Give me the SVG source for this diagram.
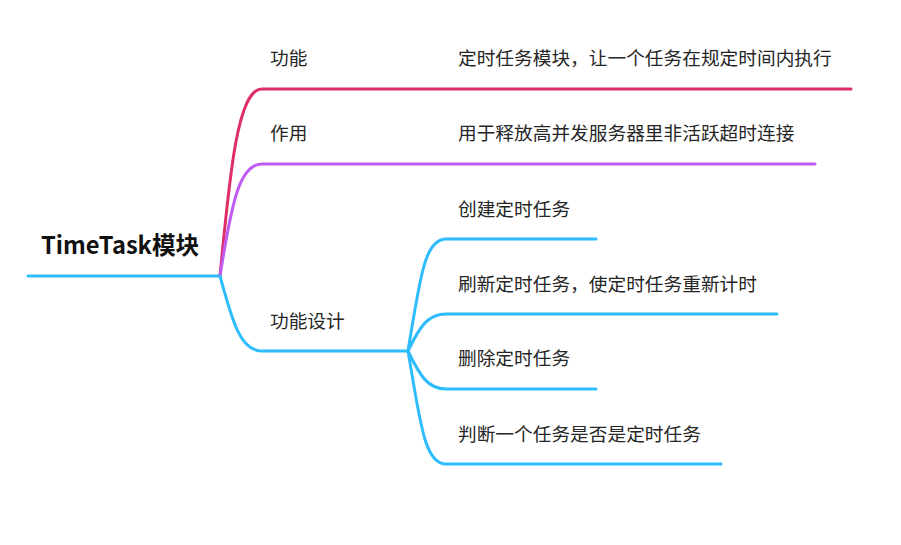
<svg xmlns="http://www.w3.org/2000/svg" width="901" height="545" viewBox="0 0 901 545">
<style>
.l{fill:none;stroke-width:3;stroke-linecap:round;stroke-linejoin:round}
.r{stroke:#de2e68}.p{stroke:#bf5af2}.b{stroke:#2dbcfd}
text{font-family:"Noto Sans CJK SC","Microsoft YaHei",sans-serif;font-size:18.7px;fill:#262626}
.root{font-size:23.7px;font-weight:bold;fill:#111}
</style>
<rect width="901" height="545" fill="#fff"/>
<g id="connectors">
<path class="l b" d="M28,276 H220"/>
<path class="l r" d="M220,276 C230,170 238,89 262,89 H851"/>
<path class="l p" d="M220,276 C232,200 240,164 262,164 H815"/>
<path class="l b" d="M220,276 C232,320 240,351 262,351 H408"/>
<path class="l b" d="M408,351 C420,280 424,239 446,239 H596"/>
<path class="l b" d="M408,351 C420,326 428,314 446,314 H777"/>
<path class="l b" d="M408,351 C420,376 428,389 446,389 H596"/>
<path class="l b" d="M408,351 C420,420 424,464 446,464 H721"/>
</g>
<g id="root"><text class="root" x="41" y="254">TimeTask模块</text></g>
<g id="n1"><text x="270" y="65">功能</text></g>
<g id="n2"><text x="270" y="140">作用</text></g>
<g id="n3"><text x="270" y="328">功能设计</text></g>
<g id="n1a"><text x="458" y="65">定时任务模块，让一个任务在规定时间内执行</text></g>
<g id="n2a"><text x="458" y="140">用于释放高并发服务器里非活跃超时连接</text></g>
<g id="n3a"><text x="458" y="216">创建定时任务</text></g>
<g id="n3b"><text x="458" y="291">刷新定时任务，使定时任务重新计时</text></g>
<g id="n3c"><text x="458" y="365">删除定时任务</text></g>
<g id="n3d"><text x="458" y="441">判断一个任务是否是定时任务</text></g>
</svg>
